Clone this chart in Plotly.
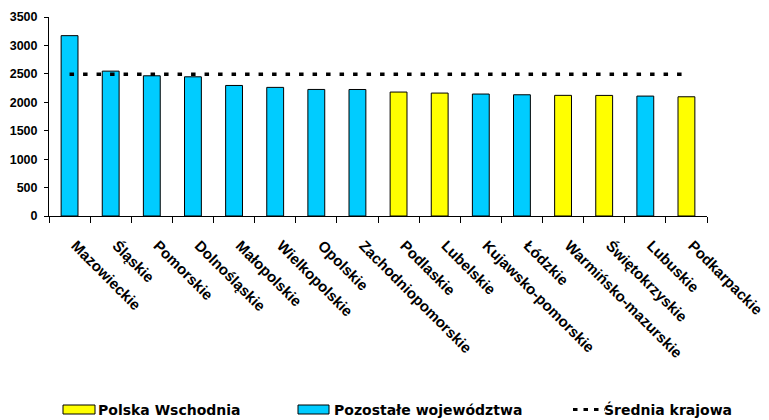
import plotly.graph_objects as go

# ---- data ----
regions = ["Mazowieckie", "Śląskie", "Pomorskie", "Dolnośląskie", "Małopolskie",
           "Wielkopolskie", "Opolskie", "Zachodniopomorskie", "Podlaskie", "Lubelskie",
           "Kujawsko-pomorskie", "Łódzkie", "Warmińsko-mazurskie", "Świętokrzyskie",
           "Lubuskie", "Podkarpackie"]
values = [3172, 2548, 2466, 2448, 2296, 2262, 2226, 2225, 2180, 2162,
          2145, 2132, 2122, 2121, 2109, 2097]
is_east = [False, False, False, False, False, False, False, False, True, True,
           False, False, True, True, False, True]
national_avg = 2495

series_names = ["Polska Wschodnia", "Pozostałe województwa", "Średnia krajowa"]
y_ticks = [0, 500, 1000, 1500, 2000, 2500, 3000, 3500]

YELLOW = "#FFFF00"
BLUE = "#00CCFF"
FONT = "Liberation Sans"
LEG_FONT = "DejaVu Sans"

colors = [YELLOW if e else BLUE for e in is_east]

fig = go.Figure()
fig.add_trace(go.Bar(
    x=regions, y=values, marker=dict(color=colors, line=dict(color="black", width=1)),
    showlegend=False, hoverinfo="x+y",
))
fig.add_trace(go.Scatter(
    x=regions, y=[national_avg] * len(regions), mode="lines",
    line=dict(color="black", width=3.5, dash="4.5px,9px"),
    showlegend=False, name=series_names[2],
))

fig.update_layout(
    width=769, height=420,
    margin=dict(l=49, r=62, t=17, b=204),
    plot_bgcolor="white", paper_bgcolor="white",
    bargap=0.59,
    font=dict(family=FONT, color="black", size=12, weight="bold"),
)
fig.update_xaxes(
    type="category", tickson="boundaries", ticks="outside", ticklen=6, tickcolor="black",
    showline=True, linecolor="black", linewidth=1, showgrid=False, automargin=False,
    tickangle=45, tickfont=dict(family=FONT, size=15, color="black", weight="bold"),
    ticklabelstandoff=14, ticklabelshift=6,
)
fig.update_yaxes(
    range=[0, 3500], tickvals=y_ticks, ticks="outside", ticklen=4, tickcolor="black",
    showline=True, linecolor="black", linewidth=1, showgrid=False, zeroline=False,
    automargin=False,
    tickfont=dict(family=FONT, size=12.5, color="black", weight="bold"),
    ticklabelstandoff=4,
)

# ---- custom legend at bottom ----
PL, PW, PB, PH = 49, 658, 216, 199
def px(x):
    return (x - PL) / PW
def py(y):
    return (PB - y) / PH

shapes = [
    dict(type="rect", xref="paper", yref="paper", x0=px(63), x1=px(95), y0=py(414), y1=py(405),
         fillcolor=YELLOW, line=dict(color="black", width=1)),
    dict(type="rect", xref="paper", yref="paper", x0=px(298), x1=px(329), y0=py(414), y1=py(405),
         fillcolor=BLUE, line=dict(color="black", width=1)),
    dict(type="line", xref="paper", yref="paper", x0=px(573), x1=px(605), y0=py(409.5), y1=py(409.5),
         line=dict(color="black", width=3, dash="4.5px,6px")),
]
leg_font = dict(family=LEG_FONT, size=14, color="black", weight="bold")
annotations = [
    dict(xref="paper", yref="paper", x=px(96), y=py(409.5), text=series_names[0],
         showarrow=False, xanchor="left", yanchor="middle", font=leg_font),
    dict(xref="paper", yref="paper", x=px(332), y=py(409.5), text=series_names[1],
         showarrow=False, xanchor="left", yanchor="middle", font=leg_font),
    dict(xref="paper", yref="paper", x=px(602), y=py(409.5), text=series_names[2],
         showarrow=False, xanchor="left", yanchor="middle", font=leg_font),
]
fig.update_layout(shapes=shapes, annotations=annotations)

fig.write_html("out.html", config={"displayModeBar": False},
               post_script="document.body.style.margin='0px';")
